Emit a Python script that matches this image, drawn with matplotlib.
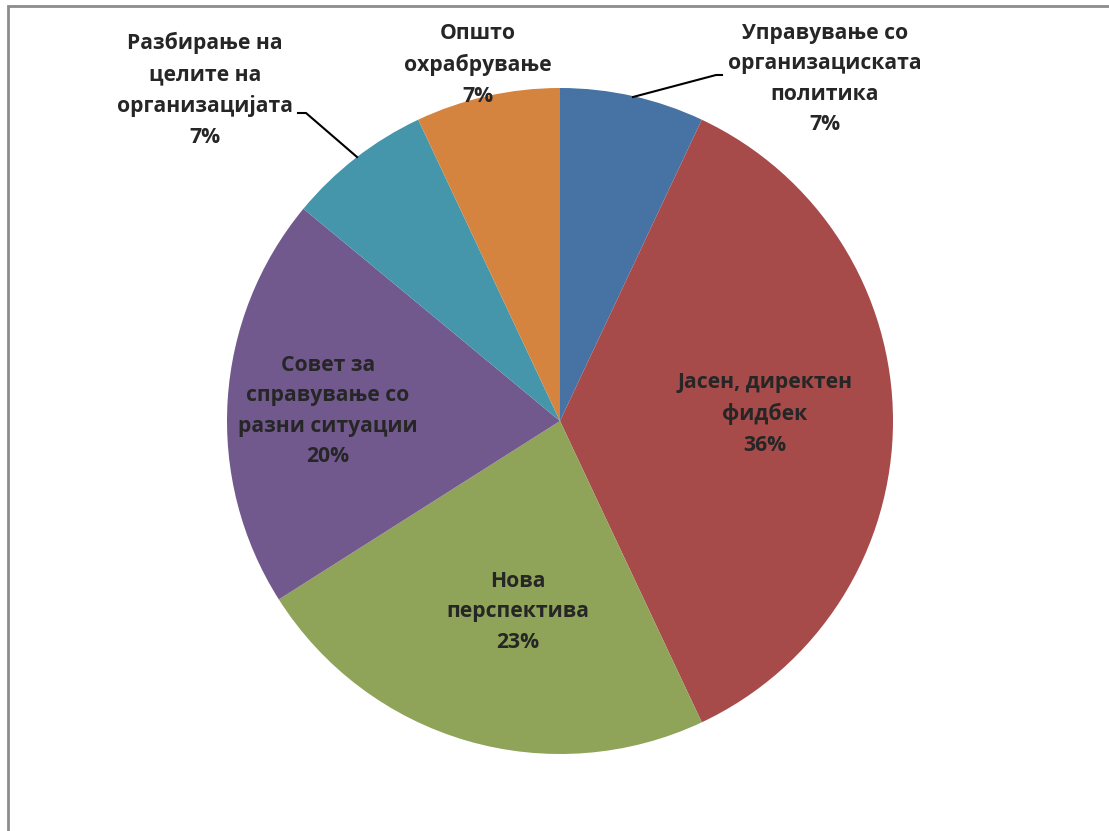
import matplotlib.pyplot as plt
from matplotlib.patches import Rectangle

# data (clockwise from 12 o'clock)
categories = ["Управување со\nорганизациската\nполитика",
              "Јасен, директен\nфидбек",
              "Нова\nперспектива",
              "Совет за\nсправување со\nразни ситуации",
              "Разбирање на\nцелите на\nорганизацијата",
              "Општо\nохрабрување"]
values = [7, 36, 23, 20, 7, 7]
colors = ["#4672A4", "#A64B49", "#8FA359", "#71598E", "#4596AB", "#D5843F"]

W, H = 1109, 831
plt.rcParams['font.family'] = ['Open Sans', 'DejaVu Sans']

fig = plt.figure(figsize=(W / 100, H / 100), dpi=100)
ax = fig.add_axes([0, 0, 1, 1])

cx, cy, r = 560, H - 421, 333
ax.pie(values, colors=colors, startangle=90, counterclock=False,
       center=(cx, cy), radius=r, wedgeprops=dict(linewidth=0))

ax.set_xlim(0, W)
ax.set_ylim(0, H)
ax.set_aspect('equal')
ax.axis('off')

# label positions in pixel coords (x, y from top)
label_pos = [(825, 79), (765, 414), (518, 612), (328, 411), (205, 90), (478, 65)]
for name, v, (lx, ly) in zip(categories, values, label_pos):
    ax.text(lx, H - ly, f"{name}\n{v:.0f}%", ha='center', va='center',
            fontsize=15.2, fontweight='bold', color='#262626', linespacing=1.6)

# leader lines
ax.plot([633, 716, 722], [H - 97, H - 75, H - 75], color='black', lw=1.5)
ax.plot([298, 306, 357], [H - 113, H - 113, H - 157], color='black', lw=1.5)

# chart area border (cropped)
ax.add_patch(Rectangle((8, -10), W + 20, H - 6 + 10, fill=False,
                       edgecolor='#8C8C8C', lw=2, clip_on=False))

fig.savefig("out.png", dpi=100)
